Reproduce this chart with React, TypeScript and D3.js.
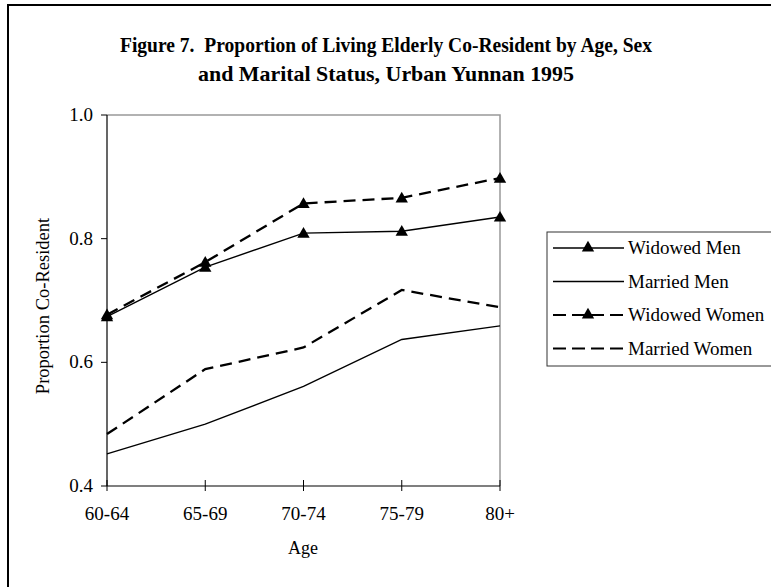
import React from 'react'
import * as d3 from 'd3'

const ages = ['60-64', '65-69', '70-74', '75-79', '80+']
const widowedMen = [0.674, 0.754, 0.809, 0.812, 0.835]
const marriedMen = [0.452, 0.5, 0.561, 0.637, 0.659]
const widowedWomen = [0.677, 0.762, 0.857, 0.866, 0.898]
const marriedWomen = [0.484, 0.589, 0.624, 0.717, 0.689]
const yTicks = [0.4, 0.6, 0.8, 1.0]

const series = [
  { name: 'Widowed Men', values: widowedMen, dashed: false, marker: true },
  { name: 'Married Men', values: marriedMen, dashed: false, marker: false },
  { name: 'Widowed Women', values: widowedWomen, dashed: true, marker: true },
  { name: 'Married Women', values: marriedWomen, dashed: true, marker: false },
]

const font = '"Liberation Serif", "Times New Roman", serif'

export default function App() {
  const x = d3.scalePoint<string>().domain(ages).range([107, 500])
  const y = d3.scaleLinear().domain([0.4, 1.0]).range([486, 115])

  const line = d3
    .line<number>()
    .x((_, i) => x(ages[i]) as number)
    .y(d => y(d))

  const tri = d3.symbol().type(d3.symbolTriangle).size(66)()

  return (
    <svg
      width={771}
      height={587}
      style={{ position: 'absolute', left: 0, top: 0, background: '#fff' }}
      fontFamily={font}
    >
      {/* outer frame, cut off at right and bottom */}
      <rect x={8} y={5} width={800} height={620} fill="none" stroke="#000" strokeWidth={2} />

      {/* title */}
      <text x={386} y={52} textAnchor="middle" fontSize={21} fontWeight="bold" textLength={532} lengthAdjust="spacingAndGlyphs" style={{ whiteSpace: 'pre' }}>
        {'Figure 7.  Proportion of Living Elderly Co-Resident by Age, Sex'}
      </text>
      <text x={386} y={81} textAnchor="middle" fontSize={21} fontWeight="bold" textLength={376} lengthAdjust="spacingAndGlyphs">
        and Marital Status, Urban Yunnan 1995
      </text>

      {/* plot area border (top/right) */}
      <path d={`M${x.range()[0]},${y(1)}H${x.range()[1]}V${y(0.4)}`} fill="none" stroke="#999" strokeWidth={1.5} />

      {/* y axis */}
      <line x1={107} x2={107} y1={y(1)} y2={y(0.4)} stroke="#000" strokeWidth={1.2} />
      {yTicks.map(t => (
        <g key={t}>
          <line x1={101} x2={107} y1={y(t)} y2={y(t)} stroke="#000" strokeWidth={1} />
          <text x={93} y={y(t) + 6} textAnchor="end" fontSize={19}>
            {t.toFixed(1)}
          </text>
        </g>
      ))}

      {/* x axis */}
      <line x1={107} x2={500} y1={y(0.4)} y2={y(0.4)} stroke="#000" strokeWidth={1.2} />
      {ages.map(a => (
        <g key={a}>
          <line x1={x(a)} x2={x(a)} y1={y(0.4) - 6} y2={y(0.4) + 5} stroke="#000" strokeWidth={1} />
          <text x={x(a)} y={520} textAnchor="middle" fontSize={19}>
            {a}
          </text>
        </g>
      ))}

      <text x={303} y={554} textAnchor="middle" fontSize={18}>
        Age
      </text>
      <text transform="translate(49,306) rotate(-90)" textAnchor="middle" fontSize={18.5}>
        Proportion Co-Resident
      </text>

      {/* series */}
      {series.map(s => (
        <g key={s.name}>
          <path
            d={line(s.values) || ''}
            fill="none"
            stroke="#000"
            strokeWidth={s.dashed ? 2.3 : 1.4}
            strokeDasharray={s.dashed ? '12,7' : undefined}
          />
          {s.marker &&
            s.values.map((v, i) => (
              <path key={i} d={tri || ''} transform={`translate(${x(ages[i])},${y(v) + 1})`} fill="#000" />
            ))}
        </g>
      ))}

      {/* legend */}
      <rect x={547} y={232} width={240} height={134} fill="#fff" stroke="#333" strokeWidth={1} />
      {series.map((s, i) => {
        const ly = 248 + i * 33.5
        return (
          <g key={s.name}>
            <line
              x1={553}
              x2={624}
              y1={ly}
              y2={ly}
              stroke="#000"
              strokeWidth={s.dashed ? 2 : 1.3}
              strokeDasharray={s.dashed ? '13,6' : undefined}
            />
            {s.marker && <path d={tri || ''} transform={`translate(588,${ly})`} fill="#000" />}
            <text x={628} y={ly + 6} fontSize={19}>
              {s.name}
            </text>
          </g>
        )
      })}
    </svg>
  )
}
